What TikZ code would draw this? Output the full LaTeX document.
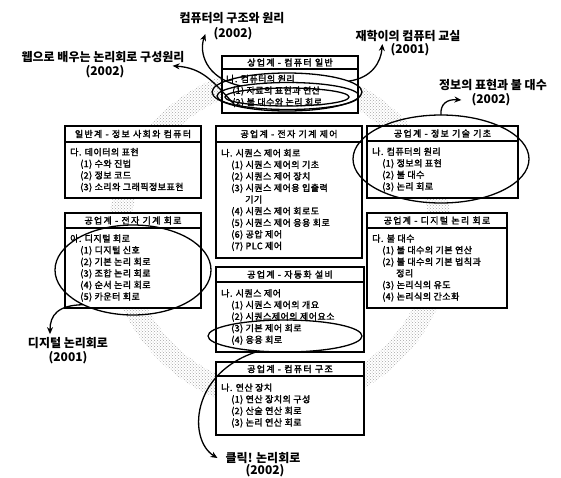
\documentclass[tikz,border=0pt]{standalone}
\usepackage{fontspec}
\setmainfont{Noto Sans CJK KR}
\usetikzlibrary{shapes.geometric,arrows.meta,patterns}
\newcommand\hdrfont{\fontsize{9}{11}\selectfont\addfontfeatures{LetterSpace=14,FakeBold=2}}
\newcommand\bodyfont{\fontsize{9}{11.6}\selectfont\addfontfeatures{LetterSpace=5,FakeBold=2}}
\newcommand\lblfont{\fontsize{12}{14}\selectfont\bfseries}
\newcommand\ind{\hspace*{10pt}}
\newcommand\indd{\hspace*{24pt}}
\begin{document}
\begin{tikzpicture}[x=1pt,y=-1pt,
  hbox/.style={draw,line width=1.5pt,fill=white,anchor=north west,inner sep=0pt,outer sep=0pt,font=\hdrfont},
  bbox/.style={draw,line width=1.5pt,fill=white,anchor=north west,inner sep=0pt,outer sep=0pt},
  btext/.style={anchor=west,inner sep=0pt,align=left,font=\bodyfont},
  ell/.style={draw,ellipse,line width=1.3pt,inner sep=0pt,outer sep=0pt},
  lbl/.style={font=\lblfont,inner sep=0pt},
  arr/.style={line width=1.3pt,-{Stealth[length=7pt,width=6pt]}}]
\useasboundingbox (0,0) rectangle (561,477);
\fill[pattern=crosshatch dots,pattern color=black!35,even odd rule] (280,238) circle[radius=172pt] (280,238) circle[radius=150pt];
% A
\node[hbox,minimum width=136pt,minimum height=13pt] (Ah) at (222,56) {상업계 - 컴퓨터 일반};
\node[bbox,minimum width=136pt,minimum height=44pt] (Ab) at (Ah.south west) {};
\node[btext] (At) at ([xshift=4pt]Ab.west) {나. 컴퓨터의 원리\\\hspace*{6pt}(1) 자료의 표현과 연산\\\hspace*{6pt}(2) 불 대수와 논리 회로};
% B
\node[hbox,minimum width=136pt,minimum height=16pt] (Bh) at (65,126) {일반계 - 정보 사회와 컴퓨터};
\node[bbox,minimum width=136pt,minimum height=56pt] (Bb) at (Bh.south west) {};
\node[btext] (Bt) at ([xshift=5pt]Bb.west) {다. 데이터의 표현\\\ind(1) 수와 진법\\\ind(2) 정보 코드\\\ind(3) 소리와 그래픽정보표현};
% C
\node[hbox,minimum width=146pt,minimum height=16pt] (Ch) at (216,126) {공업계 - 전자 기계 제어};
\node[bbox,minimum width=146pt,minimum height=116pt] (Cb) at (Ch.south west) {};
\node[btext] (Ct) at ([xshift=5pt]Cb.west) {나. 시퀀스 제어 회로\\\ind(1) 시퀀스 제어의 기초\\\ind(2) 시퀀스 제어 장치\\\ind(3) 시퀀스 제어용 입출력\\\indd 기기\\\ind(4) 시퀀스 제어 회로도\\\ind(5) 시퀀스 제어 응용 회로\\\ind(6) 공압 제어\\\ind(7) PLC 제어};
% D
\node[hbox,minimum width=151pt,minimum height=15pt] (Dh) at (367,126) {공업계 - 정보 기술 기초};
\node[bbox,minimum width=151pt,minimum height=57pt] (Db) at (Dh.south west) {};
\node[btext] (Dt) at ([xshift=5pt]Db.west) {나. 컴퓨터의 원리\\\ind(1) 정보의 표현\\\ind(2) 불 대수\\\ind(3) 논리 회로};
% E
\node[hbox,minimum width=136pt,minimum height=15pt] (Eh) at (65,213) {공업계 - 전자 기계 회로};
\node[bbox,minimum width=136pt,minimum height=80pt] (Eb) at (Eh.south west) {};
\node[btext] (Et) at ([xshift=5pt]Eb.west) {아. 디지털 회로\\\ind(1) 디지털 신호\\\ind(2) 기본 논리 회로\\\ind(3) 조합 논리 회로\\\ind(4) 순서 논리 회로\\\ind(5) 카운터 회로};
% F
\node[hbox,minimum width=140pt,minimum height=15pt] (Fh) at (367,213) {공업계 - 디지털 논리 회로};
\node[bbox,minimum width=140pt,minimum height=80pt] (Fb) at (Fh.south west) {};
\node[btext] (Ft) at ([xshift=5pt]Fb.west) {다. 불 대수\\\ind(1) 불 대수의 기본 연산\\\ind(2) 불 대수의 기본 법칙과\\\indd 정리\\\ind(3) 논리식의 유도\\\ind(4) 논리식의 간소화};
% G
\node[hbox,minimum width=148pt,minimum height=15pt] (Gh) at (216,267) {공업계 - 자동화 설비};
\node[bbox,minimum width=148pt,minimum height=70pt] (Gb) at (Gh.south west) {};
\node[btext] (Gt) at ([xshift=5pt]Gb.west) {나. 시퀀스 제어\\\ind(1) 시퀀스 제어의 개요\\\ind(2) 시퀀스제어의 제어요소\\\ind(3) 기본 제어 회로\\\ind(4) 응용 회로};
% H
\node[hbox,minimum width=148pt,minimum height=14pt] (Hh) at (216,362) {공업계 - 컴퓨터 구조};
\node[bbox,minimum width=148pt,minimum height=59pt] (Hb) at (Hh.south west) {};
\node[btext] (Ht) at ([xshift=5pt]Hb.west) {나. 연산 장치\\\ind(1) 연산 장치의 구성\\\ind(2) 산술 연산 회로\\\ind(3) 논리 연산 회로};
% ellipses
\node[ell,minimum width=150pt,minimum height=38pt] (eA1) at (287,92) {};
\node[ell,minimum width=142pt,minimum height=27pt] (eA2) at (288,96) {};
\node[ell,minimum width=124pt,minimum height=18pt] (eA3) at (287,97) {};
\node[ell,minimum width=176pt,minimum height=88pt] (eD) at (441,159) {};
\node[ell,minimum width=156pt,minimum height=90pt] (eE) at (133,270) {};
\node[ell,minimum width=154pt,minimum height=32pt] (eG) at (285,336) {};
% labels
\node[lbl] (tA1) at (232,18) {컴퓨터의 구조와 원리};
\node[lbl] (tA2) at (233,34) {(2002)};
\node[lbl] (tW1) at (103,57) {웹으로 배우는 논리회로 구성원리};
\node[lbl] (tW2) at (105,72) {(2002)};
\node[lbl] (tJ1) at (408,36) {재학이의 컴퓨터 교실};
\node[lbl] (tJ2) at (410,50) {(2001)};
\node[lbl] (tD1) at (493,85) {정보의 표현과 불 대수};
\node[lbl] (tD2) at (491,100) {(2002)};
\node[lbl] (tE1) at (68,343) {디지털 논리회로};
\node[lbl] (tE2) at (68,358) {(2001)};
\node[lbl] (tG1) at (263,458) {클릭! 논리회로};
\node[lbl] (tG2) at (265,471) {(2002)};
% arrows
\draw[arr] (eA2.168) .. controls (205,78) and (199,52) .. ([xshift=-8pt]tA2.west);
\draw[arr] (eA1.195) .. controls (212,80) and (202,68) .. ([xshift=-12pt,yshift=-3pt]tW1.south east);
\draw[arr] (eA1.10) .. controls (372,78) and (381,62) .. ([xshift=-8pt,yshift=6pt]tJ2.west);
\draw[arr] (eD.90) .. controls (440,104) and (447,99) .. ([xshift=-10pt]tD2.west);
\draw[arr] (eE.215) .. controls (58,305) and (50,315) .. ([xshift=-18pt,yshift=3pt]tE1.north);
\draw[arr] (eG.210) .. controls (190,372) and (188,440) .. ([xshift=-8pt]tG1.west);
\end{tikzpicture}
\end{document}
